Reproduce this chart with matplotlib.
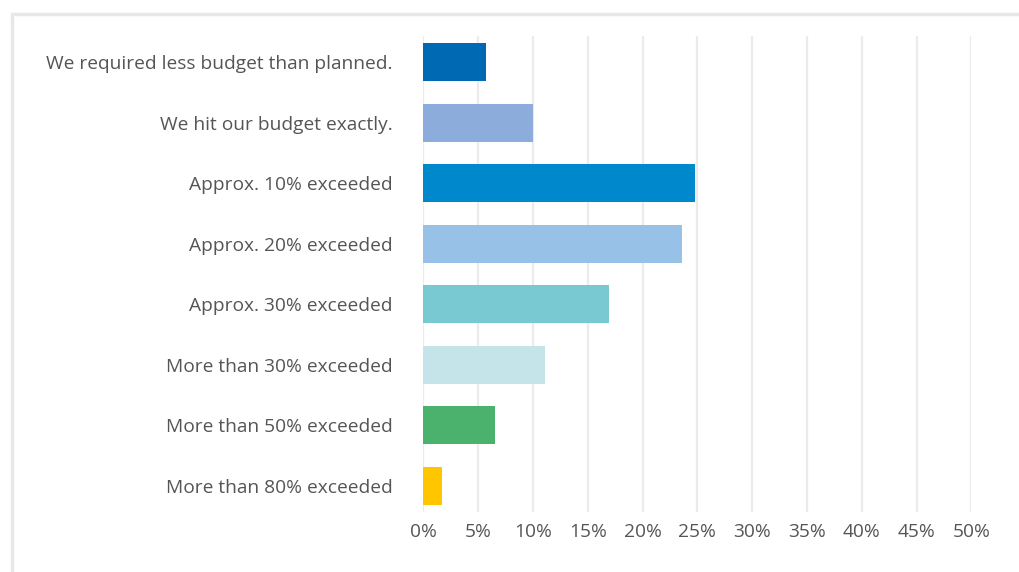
import matplotlib
matplotlib.use("Agg")
import matplotlib.pyplot as plt
from matplotlib.patches import Rectangle
from matplotlib.ticker import MultipleLocator, FuncFormatter

# Budget outcome survey, share of responses in percent
answers = [
    "We required less budget than planned.",
    "We hit our budget exactly.",
    "Approx. 10% exceeded",
    "Approx. 20% exceeded",
    "Approx. 30% exceeded",
    "More than 30% exceeded",
    "More than 50% exceeded",
    "More than 80% exceeded",
]
shares = [5.7, 10.0, 24.8, 23.6, 16.9, 11.1, 6.5, 1.7]
colors = ["#0069b4", "#8cacdb", "#0088cc", "#98c1e8",
          "#78c9d1", "#c5e4e9", "#4ab26c", "#ffc600"]

plt.rcParams['font.family'] = ['Open Sans', 'DejaVu Sans']

fig = plt.figure(figsize=(10.19, 5.72), dpi=100)
ax = fig.add_axes([423.3 / 1019, 1 - 512 / 572, 548 / 1019, 476 / 572])

pos = list(range(len(answers)))
ax.barh(pos, shares, height=0.63, color=colors, zorder=3)

ax.set_xlim(0, 50)
ax.set_ylim(7.43, -0.43)
ax.xaxis.set_major_locator(MultipleLocator(5))
ax.xaxis.set_major_formatter(FuncFormatter(lambda v, p: f"{v:.0f}%"))
ax.set_yticks(pos)
ax.set_yticklabels(answers)

ax.grid(axis='x', color='#ebebeb', linewidth=1.6, zorder=0)
ax.grid(axis='y', visible=False)
for s in ax.spines.values():
    s.set_visible(False)
ax.tick_params(axis='both', length=0, labelsize=13.8, labelcolor='#555555')
ax.tick_params(axis='y', pad=31 * 0.72)
ax.tick_params(axis='x', pad=8)

# light frame around the chart area
fig.patches.append(Rectangle((12 / 1019, -0.1), 1.2, 1 - 14 / 572 + 0.1,
                             transform=fig.transFigure, fill=False,
                             edgecolor='#e9e6ec', linewidth=2.5))

fig.savefig("out.png", dpi=100)
